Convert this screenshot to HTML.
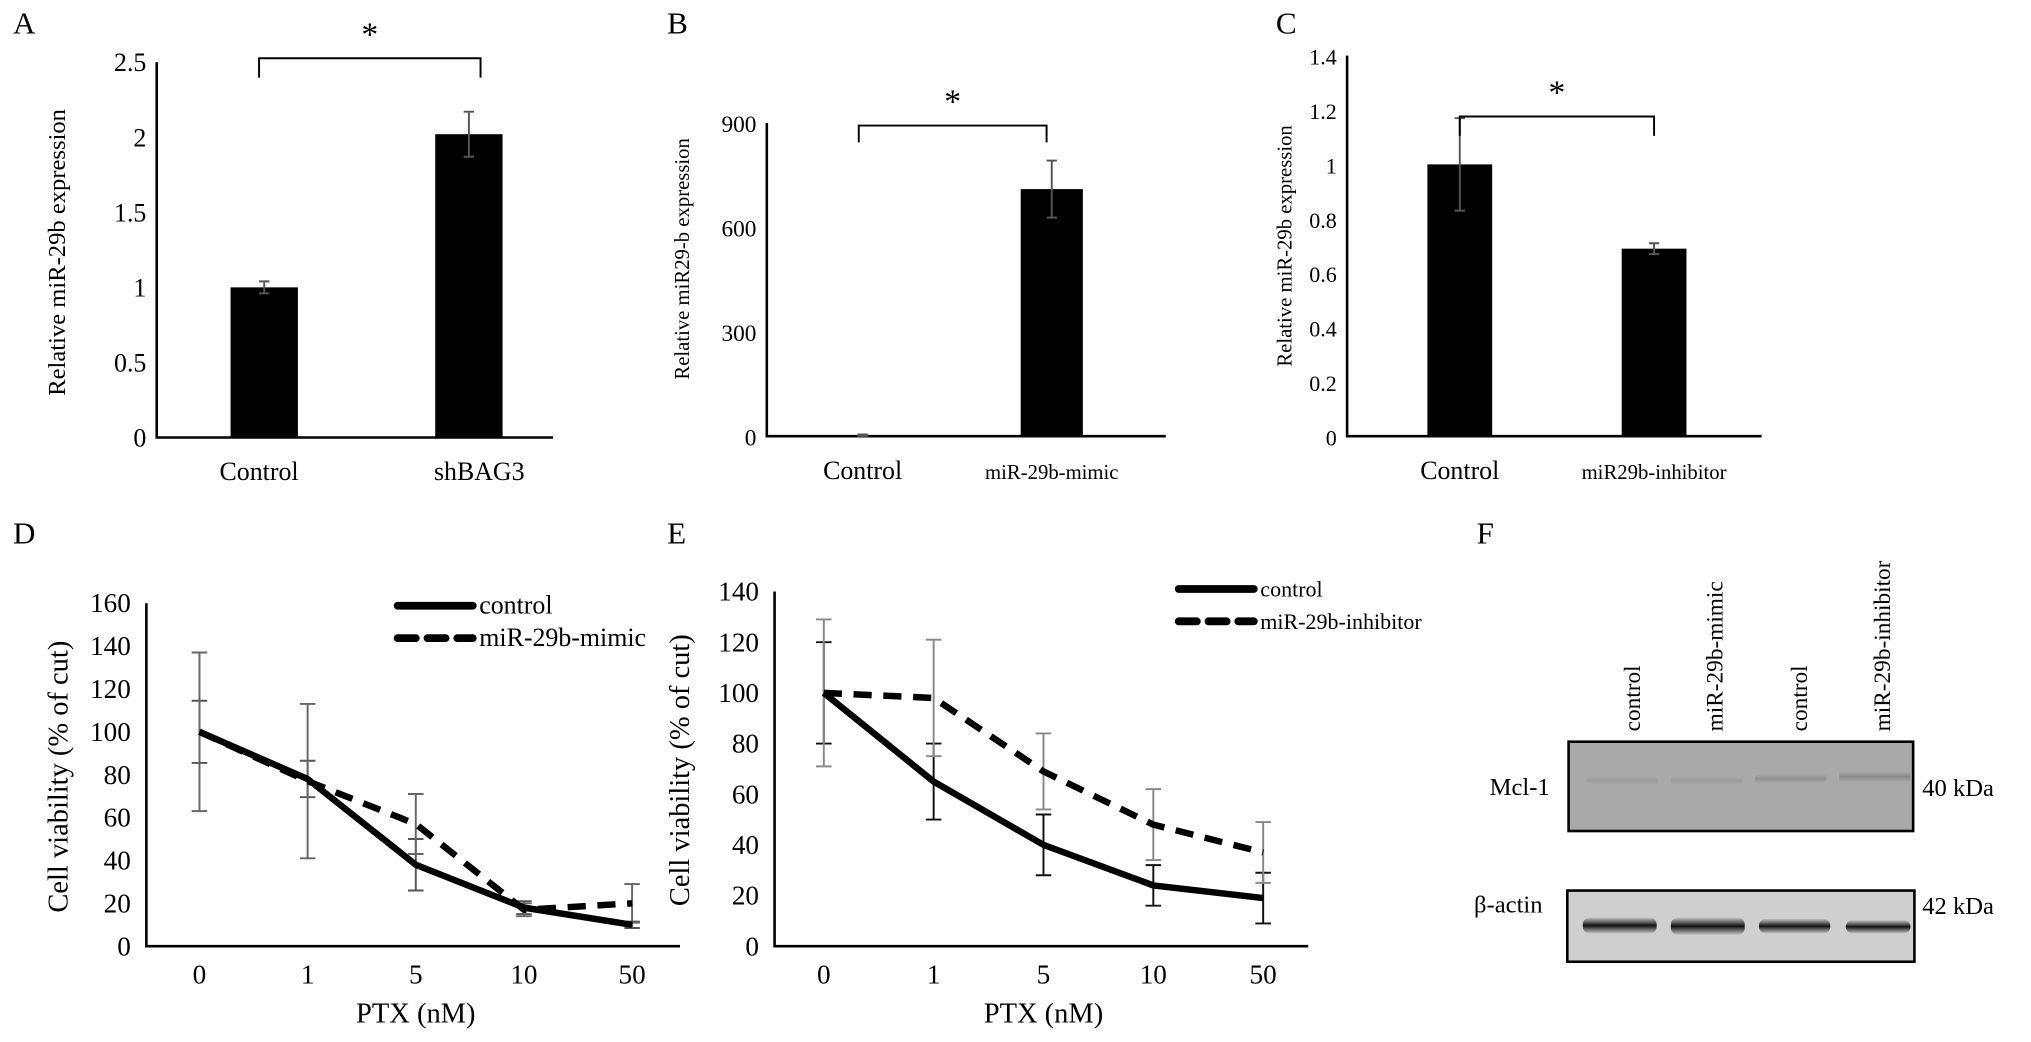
<!DOCTYPE html>
<html><head><meta charset="utf-8"><style>
html,body{margin:0;padding:0;background:#fff;}
svg{display:block;font-family:"Liberation Serif",serif;}
</style></head><body>
<svg id="fig" width="2031" height="1042" viewBox="0 0 1568 805" preserveAspectRatio="none" xmlns="http://www.w3.org/2000/svg">
<defs>
<linearGradient id="bandg" x1="0" y1="0" x2="0" y2="1"><stop offset="0" stop-color="#222" stop-opacity="0.1"/><stop offset="0.5" stop-color="#111"/><stop offset="1" stop-color="#222" stop-opacity="0.1"/></linearGradient>
<linearGradient id="mclg" x1="0" y1="0" x2="0" y2="1"><stop offset="0" stop-color="#888" stop-opacity="0"/><stop offset="0.5" stop-color="#888"/><stop offset="1" stop-color="#888" stop-opacity="0"/></linearGradient>
</defs>
<g id="root"></g>
<g>
<text x="1140" y="420" font-size="24">F</text>
<g font-size="18">
<text transform="translate(1266,565) rotate(-90)">control</text>
<text transform="translate(1330,565) rotate(-90)">miR-29b-mimic</text>
<text transform="translate(1395,565) rotate(-90)">control</text>
<text transform="translate(1459,565) rotate(-90)">miR-29b-inhibitor</text>
</g>
<rect x="1211" y="573" width="266" height="69" fill="#a9a9a9" stroke="#000" stroke-width="2"/>
<rect x="1225" y="600" width="55" height="6" fill="url(#mclg)" opacity="0.4"/>
<rect x="1290" y="600" width="55" height="6" fill="url(#mclg)" opacity="0.4"/>
<rect x="1355" y="598" width="55" height="7" fill="url(#mclg)" opacity="0.7"/>
<rect x="1420" y="596" width="55" height="8" fill="url(#mclg)"/>
<rect x="1210" y="688" width="268" height="55" fill="#cfcfcf" stroke="#000" stroke-width="2"/>
<rect x="1222" y="709" width="57" height="12" rx="5" fill="url(#bandg)"/>
<rect x="1290" y="709" width="57" height="13" rx="5" fill="url(#bandg)"/>
<rect x="1358" y="710" width="55" height="11" rx="5" fill="url(#bandg)"/>
<rect x="1425" y="711" width="50" height="10" rx="5" fill="url(#bandg)"/>
<text x="1150" y="614" font-size="19">Mcl-1</text>
<text x="1138" y="705" font-size="19">β-actin</text>
<text x="1484" y="615" font-size="19">40 kDa</text>
<text x="1484" y="706" font-size="19">42 kDa</text>
</g>
</svg>
<script>
// Panel A data
const aCats = ["Control", "shBAG3"];
const aVals = [1.0, 2.02];
const aErr = [0.04, 0.15];
const aTicks = [0, 0.5, 1, 1.5, 2, 2.5];
// Panel B data
const bCats = ["Control", "miR-29b-mimic"];
const bVals = [3, 710];
const bErr = [2, 82];
const bTicks = [0, 300, 600, 900];
// Panel C data
const cCats = ["Control", "miR29b-inhibitor"];
const cVals = [1.0, 0.69];
const cErr = [0.17, 0.02];
const cTicks = [0, 0.2, 0.4, 0.6, 0.8, 1, 1.2, 1.4];
// Panel D data
const dCats = ["0", "1", "5", "10", "50"];
const dControl = [100, 78, 38, 18, 10];
const dControlErr = [14.5, 8.5, 12, 3, 1.5];
const dMimic = [100, 77, 57, 17, 20];
const dMimicErr = [37, 36, 14, 3, 9];
const dTicks = [0, 20, 40, 60, 80, 100, 120, 140, 160];
// Panel E data
const eCats = ["0", "1", "5", "10", "50"];
const eControl = [100, 65, 40, 24, 19];
const eControlErr = [20, 15, 12, 8, 10];
const eInhib = [100, 98, 69, 48, 37];
const eInhibErr = [29, 23, 15, 14, 12];
const eTicks = [0, 20, 40, 60, 80, 100, 120, 140];

const NS = "http://www.w3.org/2000/svg";
const root = document.getElementById("root");
function el(tag, attrs, parent, text) {
  const e = document.createElementNS(NS, tag);
  for (const k in attrs) e.setAttribute(k, attrs[k]);
  if (text !== undefined) e.textContent = text;
  (parent || root).appendChild(e);
  return e;
}
function grp(name, parent) {
  const g = el("g", {}, parent);
  
  
  return g;
}
function txt(parent, name, x, y, s, fs, anchor, extra) {
  const t = el("text", Object.assign({x: x, y: y, "font-size": fs, "text-anchor": anchor || "start"}, extra || {}), parent, s);
  
  
  return t;
}

function barPanel(o) {
  const g = grp(o.name);
  const y = v => o.y0 - (v - o.vmin) / (o.vmax - o.vmin) * (o.y0 - o.y1);
  txt(g, o.name + "-label", o.lx, o.ly, o.letter, 24);
  const ax = el("path", {d: `M${o.ax} ${o.y1}V${o.y0}H${o.xend}`, stroke: "#000", "stroke-width": 2, fill: "none"}, g);
  
  
  o.ticks.forEach(t => {
    txt(g, "y-tick-label", o.ax - 8, y(t) + 7, String(t), o.tfs, "end");
  });
  txt(g, "y-axis-title", 0, 0, o.ytitle, o.ytfs, "middle", {transform: `translate(${o.ytx},${o.yty}) rotate(-90)`});
  o.cats.forEach((c, i) => {
    const cx = o.cx[i], bw = o.bw;
    const b = el("rect", {x: cx - bw / 2, y: y(o.vals[i]), width: bw, height: o.y0 - y(o.vals[i]), fill: "#000"}, g);
    
    
    const hi = y(o.vals[i] + o.err[i]), lo = y(o.vals[i] - o.err[i]);
    const e = el("path", {d: `M${cx} ${hi}V${lo}M${cx - 4} ${hi}H${cx + 4}M${cx - 4} ${lo}H${cx + 4}`, stroke: "#555", "stroke-width": 1.5, fill: "none"}, g);
    
    
    txt(g, "x-tick-label", cx + (o.cxo ? o.cxo[i] : 0), o.y0 + 33, c, o.cfs[i], "middle");
  });
  const br = el("path", {d: `M${o.br[0]} ${o.br[3]}V${o.br[2]}H${o.br[1]}V${o.br[3]}`, stroke: "#000", "stroke-width": 1.5, fill: "none"}, g);
  
  
  txt(g, "significance-star", (o.br[0] + o.br[1]) / 2, o.br[2] - 10, "*", 26, "middle");
}

barPanel({name: "panel-a", letter: "A", lx: 10, ly: 26, ax: 121, xend: 427, y0: 338, y1: 48, vmin: 0, vmax: 2.5,
  ticks: aTicks, tfs: 20, cats: aCats, vals: aVals, err: aErr, cx: [204, 362], bw: 52, cfs: [20, 20], cxo: [-4, 8],
  ytitle: "Relative miR-29b expression", ytfs: 19, ytx: 50, yty: 195, br: [200, 371, 45, 60]});
barPanel({name: "panel-b", letter: "B", lx: 515, ly: 26, ax: 592, xend: 900, y0: 337, y1: 95, vmin: 0, vmax: 900,
  ticks: bTicks, tfs: 18, cats: bCats, vals: bVals, err: bErr, cx: [666, 812], bw: 48, cfs: [20, 16],
  ytitle: "Relative miR29-b expression", ytfs: 16, ytx: 532, yty: 200, br: [663, 808, 97, 110]});
barPanel({name: "panel-c", letter: "C", lx: 985, ly: 26, ax: 1040, xend: 1360, y0: 337, y1: 43, vmin: 0, vmax: 1.4,
  ticks: cTicks, tfs: 17, cats: cCats, vals: cVals, err: cErr, cx: [1127, 1277], bw: 50, cfs: [20, 16],
  ytitle: "Relative miR-29b expression", ytfs: 16, ytx: 997, yty: 190, br: [1127, 1277, 90, 105]});

function linePanel(o) {
  const g = grp(o.name);
  const y = v => o.y0 - v / o.vmax * (o.y0 - o.y1);
  const x = i => o.x0 + i * o.dx;
  txt(g, o.name + "-label", o.lx, o.ly, o.letter, 24);
  const ax = el("path", {d: `M${o.ax} ${o.y1}V${o.y0}H${o.xend}`, stroke: "#000", "stroke-width": 2, fill: "none"}, g);
  
  
  o.ticks.forEach(t => txt(g, "y-tick-label", o.ax - 12, y(t) + 7, String(t), 21, "end"));
  o.cats.forEach((c, i) => txt(g, "x-tick-label", x(i), o.y0 + 29, c, 21, "middle"));
  txt(g, "x-axis-title", x(2), o.y0 + 59, "PTX (nM)", 22, "middle");
  txt(g, "y-axis-title", 0, 0, "Cell viability (% of cut)", 22, "middle", {transform: `translate(${o.ytx},${o.yty}) rotate(-90)`});
  o.series.forEach(s => {
    s.vals.forEach((v, i) => {
      const cx = x(i), hi = y(v + s.err[i]), lo = y(v - s.err[i]);
      const e = el("path", {d: `M${cx} ${hi}V${lo}M${cx - 6} ${hi}H${cx + 6}M${cx - 6} ${lo}H${cx + 6}`, stroke: s.ecol, "stroke-width": 1.5, fill: "none"}, g);
      
      
    });
  });
  o.series.forEach(s => {
    const d = s.vals.map((v, i) => (i ? "L" : "M") + x(i) + " " + y(v)).join("");
    const p = el("path", {d: d, stroke: "#000", "stroke-width": 5, fill: "none", "stroke-dasharray": s.dash || "none", "stroke-linejoin": "round"}, g);
    
    
  });
  o.series.forEach((s, k) => {
    const ly = o.legY + k * 25;
    const l = el("path", {d: `M${o.legX} ${ly}H${o.legX + 58}`, stroke: "#000", "stroke-width": 6, fill: "none", "stroke-dasharray": s.dash || "none", "stroke-linecap": "round"}, g);
    
    
    txt(g, "legend-entry-" + s.key, o.legX + 63, ly + 6, s.label, o.legFs);
  });
}

linePanel({name: "panel-d", letter: "D", lx: 10, ly: 420, ax: 113, xend: 525, y0: 731, y1: 466, vmax: 160,
  x0: 154, dx: 83.5, ticks: dTicks, cats: dCats, ytx: 52, yty: 600, legX: 307, legY: 468, legFs: 20,
  series: [
    {key: "control", label: "control", vals: dControl, err: dControlErr, ecol: "#555"},
    {key: "mimic", label: "miR-29b-mimic", vals: dMimic, err: dMimicErr, ecol: "#666", dash: "14 9"}
  ]});
linePanel({name: "panel-e", letter: "E", lx: 515, ly: 420, ax: 598, xend: 1010, y0: 731, y1: 457, vmax: 140,
  x0: 636, dx: 84.8, ticks: eTicks, cats: eCats, ytx: 532, yty: 595, legX: 910, legY: 455, legFs: 17,
  series: [
    {key: "control", label: "control", vals: eControl, err: eControlErr, ecol: "#111"},
    {key: "inhibitor", label: "miR-29b-inhibitor", vals: eInhib, err: eInhibErr, ecol: "#888", dash: "14 9"}
  ]});
</script>
</body></html>
